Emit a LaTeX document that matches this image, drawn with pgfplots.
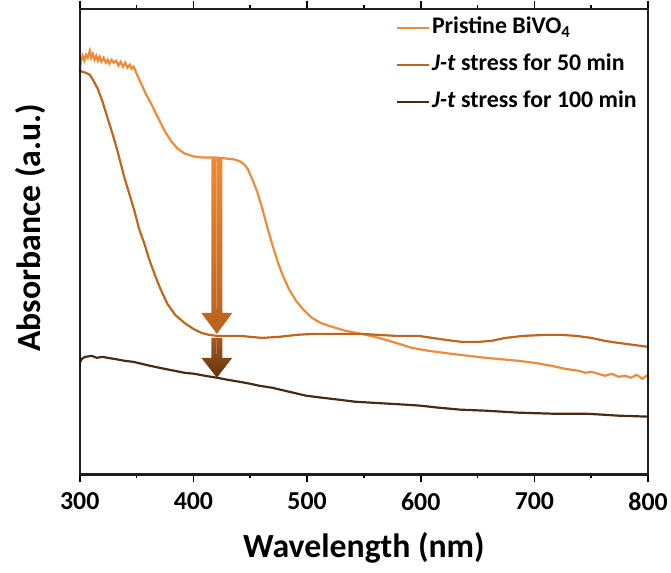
\documentclass[border=0pt]{standalone}
\usepackage{pgfplots}
\pgfplotsset{compat=1.18}
\usepackage{fontspec}
\setmainfont{Carlito}
\definecolor{cPri}{HTML}{F08A36}
\definecolor{cFifty}{HTML}{C0661C}
\definecolor{cHund}{HTML}{4A2A10}
\definecolor{frameK}{HTML}{1E1E1E}
\begin{document}
\begin{tikzpicture}
\begin{axis}[
  scale only axis,
  clip=false,
  width=570bp, height=467bp,
  xmin=300, xmax=800, ymin=6, ymax=473,
  xtick={300,400,500,600,700,800},
  minor xtick={350,450,550,650,750},
  ytick=\empty,
  tick align=outside,
  major tick length=8bp, minor tick length=4bp,
  every tick/.style={black, line width=1.8pt},
  axis line style={frameK, line width=2.2pt},
  /pgf/number format/assume math mode=true,
  /pgf/number format/1000 sep={},
  xticklabel style={font=\bfseries\fontsize{26}{30}\selectfont, yshift=-7bp},
  xlabel={Wavelength (nm)},
  ylabel={Absorbance (a.u.)},
  xlabel style={font=\bfseries\fontsize{34}{40}\selectfont, at={([yshift=-74bp]axis description cs:0.5,0)}, anchor=center},
  ylabel style={font=\bfseries\fontsize{34}{40}\selectfont, at={([xshift=-49bp]axis description cs:0,0.53)}, anchor=center},
  legend style={draw=none, fill=none, at={(axis cs:578,467)}, anchor=north west, inner sep=0pt,
    font=\bfseries\fontsize{24}{28}\selectfont, row sep=11bp,
    nodes={inner sep=2bp, text height=17bp, text depth=5bp}},
  legend cell align=left,
  legend image code/.code={\draw[#1] (0bp,0bp) -- (32bp,0bp);},
]
\addplot[cPri, line width=2.2pt] coordinates {
(300,410) (301,420) (302.5,426) (304,421) (305.5,427) (307,424) (308.8,431) (310,424) (311.5,428) (313,422) (314.5,426) (316,421) (317.5,425) (319,420) (321,424) (323,419) (324.6,422) (326,418) (328,422) (330,419) (332,421) (334,416) (336,420) (338,415) (340,419) (342,414) (344,417) (345.6,413) (347.5,415) (350,408) (354.4,397) (358,388) (363.2,377) (367,368) (371.9,357) (376,348) (380.7,340) (386,333) (392.1,328) (400,325) (407,324) (418.4,324) (428,323) (436,322) (441,320) (444.7,317) (448,312) (451.8,302) (456,290) (460.5,273) (465,254) (469.3,237) (474,220) (478.1,207) (484,192) (490.4,180) (497,171) (504.4,163) (512,158) (519.3,155) (534.2,150) (548.2,147) (563.2,143) (578.1,138) (592.1,133) (607,130) (627.2,127) (657,123) (686,120) (700,118) (714.9,115) (727,112) (738.6,110) (745,108) (750,109) (756.1,107) (762,105) (768,107) (774,104) (780,105) (785,103) (790,106) (795,102) (800,106)
};
\addlegendentry{Pristine BiVO$_\mathbf{4}$}
\addplot[cFifty, line width=2.2pt] coordinates {
(300,412) (301.8,410) (305,409) (308.8,407) (312,401) (315.8,393) (320,380) (324.6,363) (329,347) (333.3,330) (336,318) (339.5,303) (344,286) (348.2,270) (352,253) (357,237) (361,222) (365.8,207) (371,192) (377.2,177) (384,166) (392.1,158) (400,152) (407,148) (414,146) (421,145) (430,145) (442.1,145) (450,144) (460.5,143) (475,144) (490.4,146) (505,147) (519.3,147) (534,147) (548.2,147) (563,146) (578.1,145) (598.2,145) (610,143) (621.9,141) (636,139) (650.9,139) (662,140) (674.6,143) (690,145) (709.6,146) (723.7,146) (737,145) (750,143) (762,140) (773.7,138) (787,136) (800,134)
};
\addlegendentry{\textit{J-t} stress for 50 min}
\addplot[cHund, line width=2.2pt] coordinates {
(300,118) (301.8,122) (305,124) (310.5,125) (315,123) (320,124) (324.6,123) (330,122) (339.5,120) (347,119) (354.4,117) (362,115) (370.2,113) (383.3,110) (392,108) (400.9,107) (410,105) (421,103) (430,101) (440.4,99) (450,97) (457.9,95) (469.3,93) (484.2,89) (499.1,85) (513,83) (528.1,81) (542,79) (557,78) (572,77) (586.8,76) (600,75) (615.8,73) (635,71) (657,70) (686,68) (714.9,67) (744.7,67) (760,66) (773.7,65) (800,64)
};
\addlegendentry{\textit{J-t} stress for 100 min}
% arrow annotation
\shade[top color={rgb,255:red,238;green,138;blue,53}, bottom color={rgb,255:red,184;green,98;blue,30}]
  (axis cs:415.8,323) -- (axis cs:425.4,323) -- (axis cs:425.4,168) -- (axis cs:434.2,168)
  -- (axis cs:420.6,147) -- (axis cs:407,168) -- (axis cs:415.8,168) -- cycle;
\shade[top color={rgb,255:red,168;green,90;blue,28}, bottom color={rgb,255:red,94;green,52;blue,18}]
  (axis cs:415.8,143) -- (axis cs:425.4,143) -- (axis cs:425.4,123) -- (axis cs:434.2,123)
  -- (axis cs:420.6,103) -- (axis cs:407,123) -- (axis cs:415.8,123) -- cycle;
\draw[white, opacity=0.25, line width=1.2pt] (axis cs:420.6,320) -- (axis cs:420.6,172);
\draw[white, opacity=0.25, line width=1.2pt] (axis cs:420.6,141) -- (axis cs:420.6,127);
\draw[frameK, line width=2.4pt] (rel axis cs:0,0) rectangle (rel axis cs:1,1);
\end{axis}
\path (current axis.south west) ++(-80bp,-98bp) coordinate (bbA);
\path (current axis.north east) ++(21bp,7bp) coordinate (bbB);
\path (bbA) rectangle (bbB);
\end{tikzpicture}
\end{document}
